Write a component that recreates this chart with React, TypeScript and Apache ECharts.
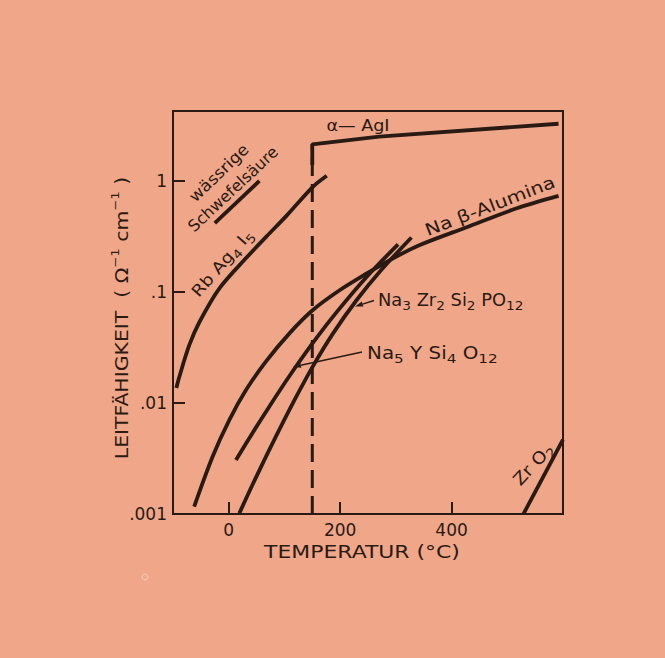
import React, { useEffect, useRef } from 'react';
import * as echarts from 'echarts';

// ---- data (temperature °C, log10 conductivity Ω^-1 cm^-1) ----
const xTicks = [0, 200, 400];
const yTicks = [-3, -2, -1, 0];
const yTickLabels = ['.001', '.01', '.1', '1'];

const rbAg4I5 = [[-94, -1.865], [-89, -1.77], [-71, -1.482], [-53, -1.275], [-17, -0.969], [32, -0.69], [68, -0.499], [104, -0.312], [151, -0.053], [176, 0.047]];
const schwefelsaeure = [[-25, -0.38], [55, 0.0]];
const alphaAgI = [[150, 0.144], [150, 0.33], [270, 0.40], [592, 0.515]];
const agiTransition = [[150, -3], [150, 0.33]];
const naBetaAlumina = [[-62, -2.933], [-29, -2.484], [1, -2.154], [31, -1.884], [67, -1.625], [109, -1.373], [151, -1.163], [199, -0.985], [247, -0.836], [295, -0.697], [343, -0.577], [427, -0.417], [517, -0.246], [592, -0.134]];
const na5YSi4O12 = [[13, -2.514], [43, -2.268], [73, -2.031], [109, -1.757], [151, -1.459], [193, -1.186], [247, -0.867], [304, -0.571]];
const na3Zr2Si2PO12 = [[19, -2.994], [49, -2.67], [85, -2.299], [121, -1.946], [151, -1.67], [187, -1.375], [229, -1.077], [271, -0.817], [328, -0.509]];
const zrO2 = [[529, -3.0], [600, -2.33]];

const INK = '#2a1a14';
const BG = '#F0A689';
const FF = 'DejaVu Sans';

function arrow(x1: number, y1: number, x2: number, y2: number) {
  const dx = x2 - x1, dy = y2 - y1;
  const L = Math.hypot(dx, dy);
  const ux = dx / L, uy = dy / L;
  const bx = x2 - 8 * ux, by = y2 - 8 * uy;
  const nx = -uy * 2.6, ny = ux * 2.6;
  return [
    { type: 'line', shape: { x1, y1, x2: bx, y2: by }, style: { stroke: INK, lineWidth: 1.4 }, z: 10 },
    { type: 'polygon', shape: { points: [[x2, y2], [bx + nx, by + ny], [bx - nx, by - ny]] }, style: { fill: INK }, z: 10 },
  ];
}

function label(text: string, x: number, y: number, deg: number, size: number, sx: number, rich?: any, align = 'center') {
  return {
    type: 'text', x, y, rotation: (deg * Math.PI) / 180, scaleX: sx, z: 10,
    style: { text, fill: INK, fontSize: size, fontFamily: FF, align, verticalAlign: 'middle', rich },
  };
}

const subRich = (size: number, sub: number) => ({
  n: { fontSize: size, fontFamily: FF, fill: INK, lineHeight: 24 },
  s: { fontSize: sub, fontFamily: FF, fill: INK, lineHeight: sub, verticalAlign: 'bottom' },
});

function line(data: number[][], extra: any = {}) {
  return {
    type: 'line', data, showSymbol: false, symbol: 'none', smooth: 0.3,
    lineStyle: { color: INK, width: 3.8, cap: 'butt' }, silent: true, z: 3, ...extra,
  };
}

export default function App() {
  const ref = useRef<HTMLDivElement>(null);
  useEffect(() => {
    const chart = echarts.init(ref.current!, null, { renderer: 'svg' });
    const option: any = {
      animation: false,
      backgroundColor: BG,
      grid: { left: 173, top: 111, width: 390, height: 403, show: true, borderColor: INK, borderWidth: 2, backgroundColor: 'transparent' },
      xAxis: {
        type: 'value', min: -100, max: 600,
        axisLine: { show: true, onZero: false, lineStyle: { color: INK, width: 2 } },
        axisTick: { show: true, inside: true, length: 12, customValues: xTicks, lineStyle: { color: INK, width: 2 } },
        axisLabel: { customValues: xTicks, color: INK, fontSize: 17, fontFamily: FF, margin: 7 },
        splitLine: { show: false },
      },
      yAxis: {
        type: 'value', min: -3, max: 0.63,
        axisLine: { show: true, onZero: false, lineStyle: { color: INK, width: 2 } },
        axisTick: { show: true, inside: true, length: 12, customValues: yTicks, lineStyle: { color: INK, width: 2 } },
        axisLabel: {
          customValues: yTicks, color: INK, fontSize: 17, fontFamily: FF, margin: 6,
          formatter: (v: number) => yTickLabels[yTicks.indexOf(Math.round(v))] ?? '',
        },
        splitLine: { show: false },
      },
      series: [
        line(rbAg4I5),
        line(schwefelsaeure, { smooth: false }),
        line(alphaAgI, { smooth: false }),
        line(agiTransition, { smooth: false, lineStyle: { color: INK, width: 3, type: [18, 8] } }),
        line(naBetaAlumina),
        line(na5YSi4O12),
        line(na3Zr2Si2PO12),
        line(zrO2, { smooth: false }),
      ],
      graphic: [
        label('TEMPERATUR (°C)', 362, 552, 0, 17, 1.29),
        label('{n|LEITFÄHIGKEIT  ( Ω}{p|−1}{n| cm}{p|−1}{n| )}', 122, 318, 90, 17, 1.2, {
          n: { fontSize: 17, fontFamily: FF, fill: INK, lineHeight: 24 },
          p: { fontSize: 11, fontFamily: FF, fill: INK, lineHeight: 11, verticalAlign: 'top' },
        }),
        label('α— AgI', 358, 125, 0, 16, 1.1),
        label('Na β-Alumina', 490, 206, 21, 17, 1.2),
        label('wässrige', 219, 173, 44, 16, 1.07),
        label('Schwefelsäure', 233, 189, 43, 16, 1.0),
        label('{n|Rb Ag}{s|4}{n| I}{s|5}', 222, 263, 49, 16, 1.15, subRich(16, 12)),
        label('{n|Zr O}{s|2}', 533, 464, 47, 17, 1.1, subRich(17, 13)),
        label('{n|Na}{s|3}{n| Zr}{s|2}{n| Si}{s|2}{n| PO}{s|12}', 378, 300, 0, 17, 1.05, subRich(17, 13), 'left'),
        label('{n|Na}{s|5}{n| Y Si}{s|4}{n| O}{s|12}', 367, 353, 0, 17, 1.17, subRich(17, 13), 'left'),
        ...arrow(374, 300.5, 355, 306.5),
        ...arrow(362, 352, 293, 367),
        { type: 'circle', shape: { cx: 145, cy: 577, r: 3 }, style: { fill: 'none', stroke: '#f8d2c0', lineWidth: 1 } },
      ],
    };
    chart.setOption(option);
    return () => chart.dispose();
  }, []);
  return <div ref={ref} style={{ position: 'fixed', left: 0, top: 0, width: 665, height: 658 }} />;
}
